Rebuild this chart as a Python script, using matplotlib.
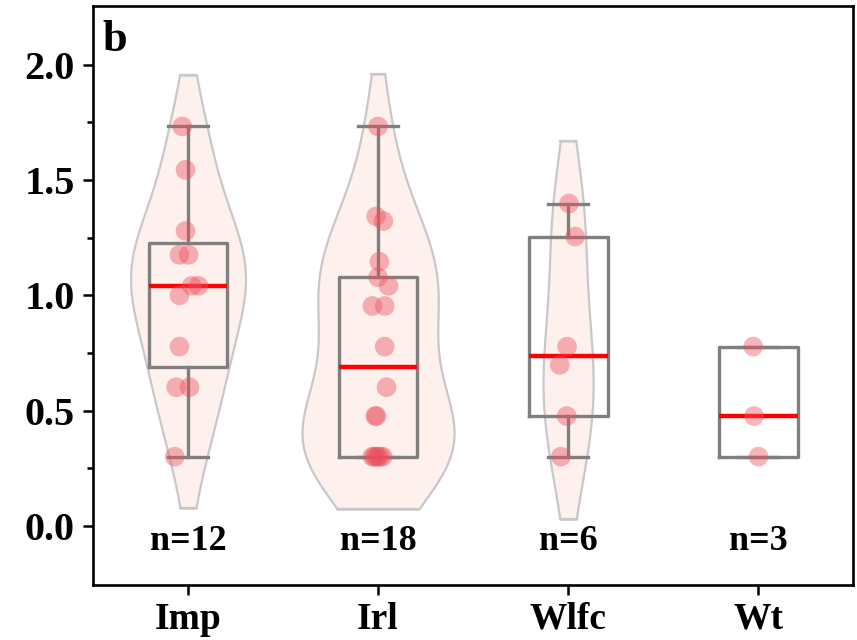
import numpy as np
import matplotlib
matplotlib.use("Agg")
import matplotlib.pyplot as plt
from matplotlib.ticker import FixedLocator

plt.rcParams['font.family'] = ['Liberation Serif', 'DejaVu Serif']
plt.rcParams['font.weight'] = 'bold'

# data
groups = ['Imp', 'Irl', 'Wlfc', 'Wt']
imp = [1.732, 1.544, 1.279, 1.176, 1.176, 1.041, 1.041, 1.000, 0.778, 0.602, 0.602, 0.301]
irl = [1.732, 1.342, 1.322, 1.146, 1.079, 1.041, 0.954, 0.954, 0.778, 0.602,
       0.477, 0.477, 0.301, 0.301, 0.301, 0.301, 0.301, 0.301]
wlfc = [1.398, 1.255, 0.778, 0.699, 0.477, 0.301]
wt = [0.778, 0.477, 0.301]
values = [imp, irl, wlfc, wt]

# horizontal scatter of the dots as seen in the picture
jitter = [
    [-0.03, -0.013, -0.013, -0.045, 0.003, 0.02, 0.055, -0.045, -0.045, -0.062, 0.008, -0.07],
    [0.0, -0.01, 0.028, 0.007, 0.0, 0.055, -0.03, 0.035, 0.035, 0.045,
     -0.015, -0.008, -0.03, -0.02, -0.01, 0.0, 0.012, 0.025],
    [0.005, 0.037, -0.005, -0.044, -0.007, -0.038],
    [-0.026, -0.021, 0.002],
]


def hinges(d):
    d = np.sort(np.asarray(d))
    n = len(d)
    half = n // 2
    lo = d[:half]
    hi = d[half + 1:] if n % 2 else d[half:]
    return np.median(lo), np.median(d), np.median(hi)


def kde(d, grid, h):
    d = np.asarray(d)
    z = (grid[:, None] - d[None, :]) / h
    return np.exp(-0.5 * z ** 2).sum(axis=1) / (len(d) * h * np.sqrt(2 * np.pi))


fig = plt.figure(figsize=(8.57, 6.4), dpi=100)
ax = fig.add_axes([0.1085, 0.086, 0.887, 0.905])

pos = np.arange(1, len(groups) + 1)

# violins (density scaled by count)
curves = []
for i, d in enumerate(values):
    if len(d) < 4:
        curves.append(None)
        continue
    d = np.asarray(d)
    h = d.std(ddof=1) * len(d) ** (-0.2)
    grid = np.linspace(d.min() - 0.9 * h, d.max() + 0.9 * h, 200)
    curves.append((grid, kde(d, grid, h) * len(d)))
wmax = max(c[1].max() for c in curves if c is not None)
for p, c in zip(pos, curves):
    if c is None:
        continue
    grid, w = c
    w = w / wmax * 0.40
    ax.fill_betweenx(grid, p - w, p + w, facecolor='#fdf0ed', edgecolor='#c8c8c8',
                     linewidth=1.6, zorder=1)
    ax.plot([p - w[0], p + w[0]], [grid[0]] * 2, color='#c8c8c8', lw=1.6, zorder=1)
    ax.plot([p - w[-1], p + w[-1]], [grid[-1]] * 2, color='#c8c8c8', lw=1.6, zorder=1)

# boxes
stats = []
for g, d in zip(groups, values):
    q1, med, q3 = hinges(d)
    stats.append(dict(label=g, med=med, q1=q1, q3=q3,
                      whislo=min(d), whishi=max(d), fliers=[]))
ax.bxp(stats, positions=pos, widths=0.415, showfliers=False, patch_artist=False,
       boxprops=dict(color='#7f7f7f', linewidth=2.4),
       whiskerprops=dict(color='#7f7f7f', linewidth=2.4),
       capprops=dict(color='#7f7f7f', linewidth=2.4),
       medianprops=dict(color='#ff0000', linewidth=3.2),
       capwidths=0.21, zorder=2)

# dots
for p, d, j in zip(pos, values, jitter):
    ax.scatter(p + np.asarray(j), d, s=200, color='#ec4f5c', alpha=0.42,
               edgecolors='none', zorder=3)

# sample sizes
for p, d in zip(pos, values):
    ax.text(p, -0.067, 'n=%d' % len(d), ha='center', va='center',
            fontsize=26, fontweight='bold')

ax.text(0.013, 0.975, 'b', transform=ax.transAxes, ha='left', va='top',
        fontsize=32, fontweight='bold')

ax.set_xlim(0.5, 4.5)
ax.set_ylim(-0.255, 2.255)
ax.set_xticks(pos)
ax.set_xticklabels(groups)
ax.set_yticks([0.0, 0.5, 1.0, 1.5, 2.0])
ax.set_yticklabels(['0.0', '0.5', '1.0', '1.5', '2.0'])
ax.yaxis.set_minor_locator(FixedLocator([0.25, 0.75, 1.25, 1.75]))
ax.tick_params(axis='both', which='major', width=1.8, length=7, direction='out')
ax.tick_params(axis='y', which='major', labelsize=29, pad=6)
ax.tick_params(axis='x', which='major', labelsize=27, pad=5)
ax.tick_params(axis='y', which='minor', width=1.8, length=4)
ax.tick_params(top=False, right=False)
for s in ax.spines.values():
    s.set_linewidth(1.9)
    s.set_color('black')
for lbl in ax.get_xticklabels() + ax.get_yticklabels():
    lbl.set_fontweight('bold')

fig.savefig('out.png', dpi=100)
